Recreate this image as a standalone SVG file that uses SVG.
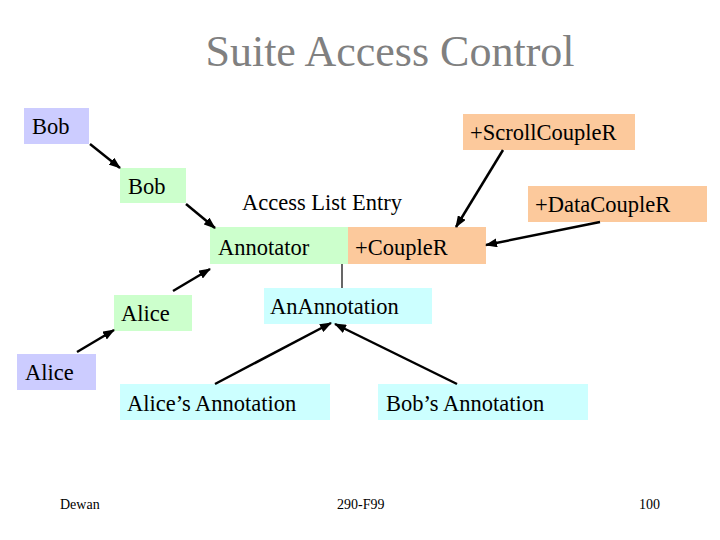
<svg xmlns="http://www.w3.org/2000/svg" width="720" height="540" viewBox="0 0 720 540">
<style>
text{font-family:"Liberation Serif","Times New Roman",serif;fill:#000}
.lbl{font-size:22.5px}
.title{font-size:44px;fill:#808080}
.foot{font-size:14px}
.lav{fill:#ccccff}
.grn{fill:#ccffcc}
.org{fill:#fcc99c}
.cyn{fill:#ccffff}
.c{stroke:#000;stroke-width:2.5;fill:none}
</style>
<defs>
<marker id="ah" markerUnits="userSpaceOnUse" markerWidth="12" markerHeight="9" refX="11" refY="4.5" orient="auto">
<path d="M0,0 L12,4.5 L0,9 Z" fill="#000"/>
</marker>
</defs>
<rect width="720" height="540" fill="#fff"/>
<text class="title" x="390" y="66" text-anchor="middle">Suite Access Control</text>

<g id="bob1"><rect class="lav" x="24" y="108" width="65" height="36"/><text class="lbl" x="32" y="134">Bob</text></g>
<g id="bob2"><rect class="grn" x="120" y="168" width="66" height="35"/><text class="lbl" x="128" y="194">Bob</text></g>
<g id="ale"><text class="lbl" x="242" y="210">Access List Entry</text></g>
<g id="annotator"><rect class="grn" x="210" y="227" width="138" height="37"/><text class="lbl" x="218" y="255">Annotator</text></g>
<g id="couple"><rect class="org" x="348" y="227" width="138" height="37"/><text class="lbl" x="355" y="255">+CoupleR</text></g>
<g id="scroll"><rect class="org" x="463" y="114" width="172" height="36"/><text class="lbl" x="470" y="140">+ScrollCoupleR</text></g>
<g id="data"><rect class="org" x="528" y="186" width="179" height="36"/><text class="lbl" x="535" y="212">+DataCoupleR</text></g>
<g id="anann"><rect class="cyn" x="264" y="288" width="168" height="36"/><text class="lbl" x="270" y="314">AnAnnotation</text></g>
<g id="alice2"><rect class="grn" x="114" y="295" width="78" height="36"/><text class="lbl" x="121" y="321">Alice</text></g>
<g id="alice1"><rect class="lav" x="17" y="354" width="79" height="36"/><text class="lbl" x="25" y="380">Alice</text></g>
<g id="aliceann"><rect class="cyn" x="120" y="384" width="210" height="36"/><text class="lbl" x="127" y="411">Alice’s Annotation</text></g>
<g id="bobann"><rect class="cyn" x="378" y="384" width="210" height="36"/><text class="lbl" x="386" y="411">Bob’s Annotation</text></g>

<g id="connectors">
<line class="c" x1="90" y1="144" x2="120" y2="168" marker-end="url(#ah)"/>
<line class="c" x1="186" y1="204" x2="215" y2="228" marker-end="url(#ah)"/>
<line class="c" x1="503" y1="150" x2="456" y2="227" marker-end="url(#ah)"/>
<line class="c" x1="600" y1="222" x2="486" y2="245" marker-end="url(#ah)"/>
<line class="c" x1="173" y1="291" x2="210" y2="269" marker-end="url(#ah)"/>
<line class="c" x1="77" y1="352" x2="114" y2="330" marker-end="url(#ah)"/>
<line class="c" x1="215" y1="384" x2="331" y2="323" marker-end="url(#ah)"/>
<line class="c" x1="457" y1="384" x2="335" y2="324" marker-end="url(#ah)"/>
<line x1="342" y1="264" x2="342" y2="288" stroke="#000" stroke-width="1.2"/>
</g>

<text class="foot" x="60" y="509">Dewan</text>
<text class="foot" x="337" y="509">290-F99</text>
<text class="foot" x="639" y="509">100</text>
</svg>
